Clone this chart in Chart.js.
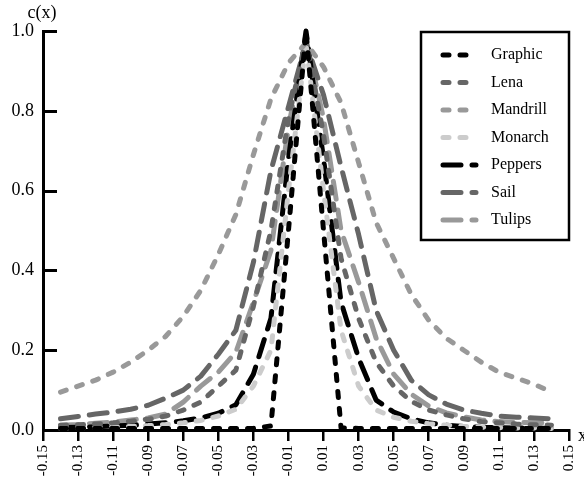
<!DOCTYPE html>
<html>
<head>
<meta charset="utf-8">
<script src="https://cdn.jsdelivr.net/npm/chart.js@4.4.0/dist/chart.umd.min.js"></script>
<style>
  body { margin: 0; background: #fff; }
  canvas { display: block; }
</style>
</head>
<body>
<canvas id="diagrama" width="584" height="489"></canvas>
<script>
// sample positions (x) shared by all curves
const xs = [-0.14, -0.13, -0.12, -0.11, -0.10, -0.09, -0.08, -0.07, -0.06, -0.05, -0.04, -0.03, -0.02, -0.01,
  0, 0.01, 0.02, 0.03, 0.04, 0.05, 0.06, 0.07, 0.08, 0.09, 0.10, 0.11, 0.12, 0.13, 0.14];

const graphic  = [0.004, 0.004, 0.004, 0.004, 0.004, 0.004, 0.004, 0.004, 0.004, 0.004, 0.004, 0.004, 0.01, 0.5,
  1.0, 0.5, 0.005, 0.004, 0.004, 0.004, 0.004, 0.004, 0.004, 0.004, 0.004, 0.004, 0.004, 0.004, 0.004];
const lena     = [0.012, 0.013, 0.015, 0.018, 0.022, 0.027, 0.035, 0.05, 0.07, 0.11, 0.15, 0.31, 0.50, 0.78,
  0.98, 0.74, 0.43, 0.28, 0.17, 0.11, 0.072, 0.05, 0.038, 0.028, 0.021, 0.018, 0.015, 0.013, 0.012];
const mandrill = [0.095, 0.11, 0.125, 0.145, 0.17, 0.20, 0.235, 0.285, 0.35, 0.44, 0.54, 0.69, 0.83, 0.92,
  0.97, 0.91, 0.82, 0.67, 0.52, 0.43, 0.34, 0.275, 0.23, 0.20, 0.17, 0.145, 0.13, 0.115, 0.095];
const monarch  = [0.004, 0.005, 0.006, 0.007, 0.009, 0.011, 0.014, 0.018, 0.024, 0.035, 0.052, 0.11, 0.2, 0.6,
  0.97, 0.6, 0.25, 0.11, 0.05, 0.032, 0.022, 0.016, 0.012, 0.009, 0.007, 0.006, 0.005, 0.005, 0.004];
const peppers  = [0.006, 0.007, 0.008, 0.01, 0.012, 0.015, 0.018, 0.023, 0.03, 0.042, 0.063, 0.14, 0.28, 0.68,
  1.0, 0.68, 0.32, 0.18, 0.075, 0.045, 0.028, 0.018, 0.012, 0.009, 0.007, 0.006, 0.005, 0.005, 0.004];
const sail     = [0.028, 0.034, 0.040, 0.045, 0.052, 0.062, 0.08, 0.10, 0.135, 0.19, 0.25, 0.42, 0.65, 0.81,
  0.97, 0.84, 0.66, 0.49, 0.30, 0.20, 0.125, 0.088, 0.065, 0.05, 0.042, 0.035, 0.032, 0.03, 0.028];
const tulips   = [0.012, 0.014, 0.017, 0.02, 0.025, 0.03, 0.04, 0.07, 0.11, 0.145, 0.195, 0.32, 0.45, 0.76,
  0.98, 0.78, 0.50, 0.37, 0.23, 0.14, 0.09, 0.06, 0.043, 0.033, 0.025, 0.021, 0.019, 0.018, 0.017];

const seriesNames = ['Graphic', 'Lena', 'Mandrill', 'Monarch', 'Peppers', 'Sail', 'Tulips'];
const seriesValues = [graphic, lena, mandrill, monarch, peppers, sail, tulips];

const xTicks = [-0.15, -0.13, -0.11, -0.09, -0.07, -0.05, -0.03, -0.01, 0.01, 0.03, 0.05, 0.07, 0.09, 0.11, 0.13, 0.15];
const xTickLabels = ['-0.15', '-0.13', '-0.11', '-0.09', '-0.07', '-0.05', '-0.03', '-0.01',
  '0.01', '0.03', '0.05', '0.07', '0.09', '0.11', '0.13', '0.15'];

// line looks: short dashes for the first four, long dashes for the rest
const shortDash = [6, 11];
const longDash = [18, 11];
const styles = [
  { color: '#000000', dash: shortDash },
  { color: '#666666', dash: shortDash },
  { color: '#999999', dash: shortDash },
  { color: '#cccccc', dash: shortDash },
  { color: '#000000', dash: longDash },
  { color: '#666666', dash: longDash },
  { color: '#999999', dash: longDash }
];

const serif = '"Liberation Serif", "Times New Roman", serif';

const datasets = seriesNames.map((name, i) => ({
  label: name,
  data: xs.map((x, j) => ({ x: x, y: seriesValues[i][j] })),
  borderColor: styles[i].color,
  borderDash: styles[i].dash,
  borderWidth: 5,
  borderCapStyle: 'round',
  borderJoinStyle: 'round',
  pointRadius: 0,
  tension: 0,
  fill: false,
  clip: 8
}));

// y ticks point inwards, plus axis titles
const axisExtras = {
  id: 'axisExtras',
  afterDraw(chart) {
    const ctx = chart.ctx;
    const y = chart.scales.y;
    const area = chart.chartArea;
    ctx.save();
    ctx.strokeStyle = '#000';
    ctx.lineWidth = 3;
    y.ticks.forEach(t => {
      const py = Math.round(y.getPixelForValue(t.value)) + 0.5;
      ctx.beginPath();
      ctx.moveTo(area.left, py);
      ctx.lineTo(area.left + 14, py);
      ctx.stroke();
    });
    ctx.fillStyle = '#000';
    ctx.font = '18px ' + serif;
    ctx.textAlign = 'center';
    ctx.textBaseline = 'middle';
    ctx.fillText('c(x)', 42, 13);
    ctx.textAlign = 'left';
    ctx.fillText('x', 578, 436);
    ctx.restore();
  }
};

// framed legend with dashed samples
const dashLegend = {
  id: 'dashLegend',
  afterDraw(chart) {
    const ctx = chart.ctx;
    ctx.save();
    ctx.strokeStyle = '#000';
    ctx.lineWidth = 2.5;
    ctx.strokeRect(421, 32, 148, 208);
    ctx.font = '16px ' + serif;
    ctx.textBaseline = 'middle';
    ctx.textAlign = 'left';
    chart.data.datasets.forEach((ds, i) => {
      const rowY = 55 + i * 27.5;
      ctx.beginPath();
      ctx.strokeStyle = ds.borderColor;
      ctx.lineWidth = ds.borderWidth;
      ctx.lineCap = 'round';
      ctx.setLineDash(ds.borderDash);
      ctx.moveTo(443, rowY);
      ctx.lineTo(476, rowY);
      ctx.stroke();
      ctx.setLineDash([]);
      ctx.fillStyle = '#000';
      ctx.fillText(ds.label, 491, rowY);
    });
    ctx.restore();
  }
};

new Chart(document.getElementById('diagrama'), {
  type: 'line',
  data: { datasets: datasets },
  options: {
    responsive: false,
    devicePixelRatio: 1,
    animation: false,
    layout: { padding: { top: 31, right: 15, left: 0, bottom: 0 } },
    plugins: {
      legend: { display: false },
      tooltip: { enabled: false }
    },
    scales: {
      x: {
        type: 'linear',
        min: -0.15,
        max: 0.15,
        afterBuildTicks: s => { s.ticks = xTicks.map(v => ({ value: v })); },
        afterFit: s => {
          s.height = 59;
          s.paddingLeft = 0;
          s.paddingRight = 0;
        },
        ticks: {
          callback: (v, i) => xTickLabels[i],
          minRotation: 90,
          maxRotation: 90,
          autoSkip: false,
          padding: 4,
          color: '#000',
          font: { family: serif, size: 15 }
        },
        grid: { drawOnChartArea: false, drawTicks: true, tickLength: 11, color: '#000', lineWidth: 2.5 },
        border: { color: '#000', width: 3 }
      },
      y: {
        min: 0,
        max: 1,
        afterFit: s => {
          s.width = 43;
          s.paddingTop = 0;
          s.paddingBottom = 0;
        },
        ticks: {
          stepSize: 0.2,
          callback: v => v.toFixed(1),
          padding: 9,
          color: '#000',
          font: { family: serif, size: 18 }
        },
        grid: { display: false, drawTicks: false },
        border: { color: '#000', width: 3 }
      }
    }
  },
  plugins: [axisExtras, dashLegend]
});
</script>
</body>
</html>
